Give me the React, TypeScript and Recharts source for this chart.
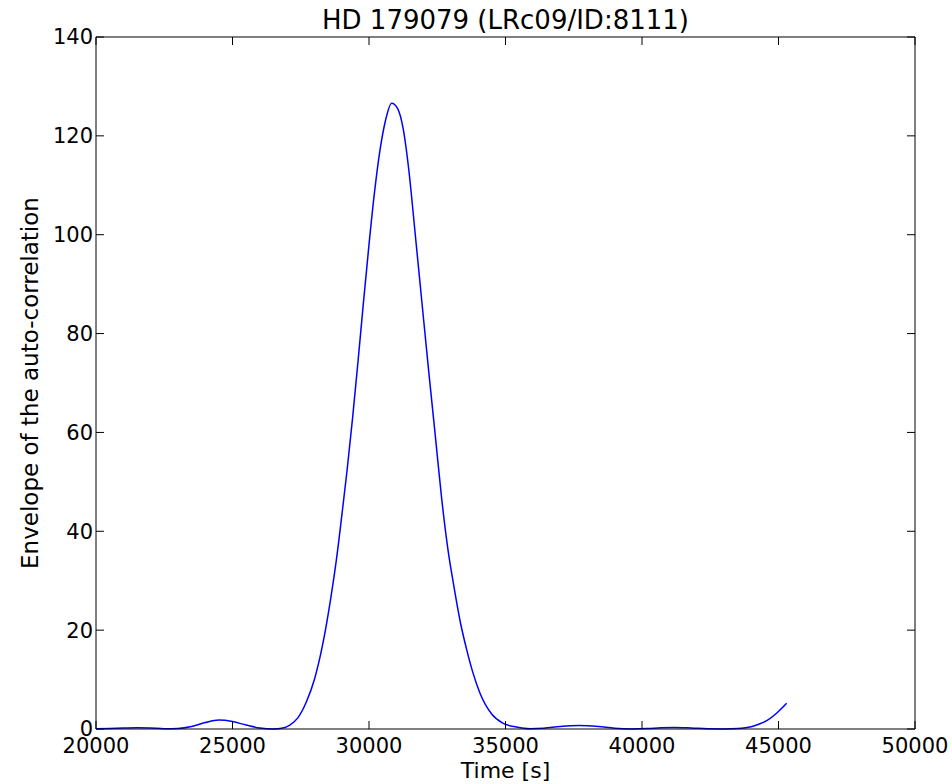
import { Label, Line, LineChart, ReferenceLine, XAxis, YAxis } from "recharts";

const title = "HD 179079 (LRc09/ID:8111)";
const xLabel = "Time [s]";
const yLabel = "Envelope of the auto-correlation";

const X_MIN = 20000;
const X_MAX = 50000;
const xTicks = [20000, 25000, 30000, 35000, 40000, 45000, 50000];
const yTicks = [0, 20, 40, 60, 80, 100, 120, 140];

// time lag [s]
const times = [
  20000, 20500, 21000, 21500, 22000, 22500, 23000, 23500, 24000, 24500,
  25000, 25500, 26000, 26500, 26800, 27100, 27400, 27700, 28000, 28300,
  28600, 28800, 29000, 29200, 29400, 29600, 29800, 30000, 30200, 30400,
  30600, 30830, 31050, 31250, 31450, 31690, 31930, 32170, 32420, 32660,
  32900, 33090, 33350, 33580, 33800, 34070, 34500, 34900, 35400, 35900,
  36400, 37000, 37700, 38400, 39000, 39600, 40200, 40700, 41200, 41800,
  42400, 43000, 43500, 44000, 44300, 44600, 44950, 45300,
];

// envelope
const envelope = [
  0.05, 0.1, 0.2, 0.25, 0.2, 0.05, 0.1, 0.5, 1.3, 1.8,
  1.5, 0.8, 0.2, 0.0, 0.15, 0.8, 2.3, 5.4, 10, 17,
  26.5, 34, 43, 52.5, 63, 74.5, 86.5, 98, 108.5, 117,
  123, 126.6, 125.5, 121.5, 113.5, 100.3, 86.8, 73.3, 59.8, 46.7,
  36, 29.5, 21.5, 16, 11.5, 7.2, 3, 1.2, 0.4, 0.05,
  0.15, 0.5, 0.7, 0.5, 0.15, 0.02, 0.1, 0.25, 0.3, 0.2,
  0.05, 0.02, 0.1, 0.45, 1.0, 1.8, 3.3, 5.2,
];

const data = times.map((t, i) => ({ t, v: envelope[i] }));

const TICK_LEN = 8;
const GAP = 9;
const FONT = 21;
// inward tick length on the y axes, in x units (8px of 819px over 30000 s)
const Y_TICK_SPAN = 293;

// matplotlib-style ticks: pointing into the plot
const BottomTick = (p: any) => {
  const x = Number(p.x);
  const y = Number(p.y);
  return (
    <g>
      <line x1={x} x2={x} y1={y - GAP} y2={y - GAP - TICK_LEN} stroke="#000" />
      <text x={x} y={y} dy="0.71em" textAnchor="middle" fill="#000" fontSize={FONT}>
        {p.payload.value}
      </text>
    </g>
  );
};

const TopTick = (p: any) => {
  const x = Number(p.x);
  const y = Number(p.y);
  return <line x1={x} x2={x} y1={y} y2={y + TICK_LEN} stroke="#000" />;
};

const LeftLabel = (p: any) => (
  <text
    x={Number(p.x)}
    y={Number(p.y)}
    dy="0.355em"
    textAnchor="end"
    fill="#000"
    fontSize={FONT}
  >
    {p.payload.value}
  </text>
);

export default function App() {
  return (
    <div
      style={{
        position: "absolute",
        left: 0,
        top: 0,
        width: 952,
        height: 784,
        background: "#fff",
        fontFamily: "'DejaVu Sans', sans-serif",
      }}
    >
      <LineChart
        width={952}
        height={784}
        data={data}
        margin={{ top: 36, right: 36, bottom: 0, left: 0 }}
      >
        <XAxis
          dataKey="t"
          type="number"
          domain={[X_MIN, X_MAX]}
          ticks={xTicks}
          interval={0}
          allowDataOverflow
          height={55}
          tickLine={false}
          tickSize={0}
          tickMargin={GAP}
          tick={BottomTick}
          stroke="#000"
        >
          <Label
            value={xLabel}
            position="center"
            dy={14}
            style={{ fill: "#000", fontSize: 22 }}
          />
        </XAxis>
        <XAxis
          xAxisId="top"
          orientation="top"
          dataKey="t"
          type="number"
          domain={[X_MIN, X_MAX]}
          ticks={xTicks}
          interval={0}
          height={1}
          tickLine={false}
          tickSize={0}
          tickMargin={0}
          tick={TopTick}
          stroke="#000"
        >
          <Label
            value={title}
            position="top"
            offset={7}
            style={{ fill: "#000", fontSize: 26 }}
          />
        </XAxis>
        <YAxis
          type="number"
          domain={[0, 140]}
          ticks={yTicks}
          interval={0}
          width={96}
          tickLine={false}
          tickSize={0}
          tickMargin={3}
          tick={LeftLabel}
          stroke="#000"
        >
          <Label
            value={yLabel}
            position="center"
            angle={-90}
            dx={-18}
            style={{ fill: "#000", fontSize: 23, textAnchor: "middle" }}
          />
        </YAxis>
        <YAxis
          yAxisId="right"
          orientation="right"
          type="number"
          domain={[0, 140]}
          width={1}
          tickLine={false}
          tick={false}
          stroke="#000"
        />
        {yTicks.map((v) => (
          <ReferenceLine
            key={`l${v}`}
            segment={[
              { x: X_MIN, y: v },
              { x: X_MIN + Y_TICK_SPAN, y: v },
            ]}
            stroke="#000"
            strokeWidth={1}
          />
        ))}
        {yTicks.map((v) => (
          <ReferenceLine
            key={`r${v}`}
            segment={[
              { x: X_MAX - Y_TICK_SPAN, y: v },
              { x: X_MAX, y: v },
            ]}
            stroke="#000"
            strokeWidth={1}
          />
        ))}
        <Line
          type="monotone"
          dataKey="v"
          stroke="#0000ff"
          strokeWidth={1.5}
          dot={false}
          isAnimationActive={false}
        />
      </LineChart>
    </div>
  );
}
